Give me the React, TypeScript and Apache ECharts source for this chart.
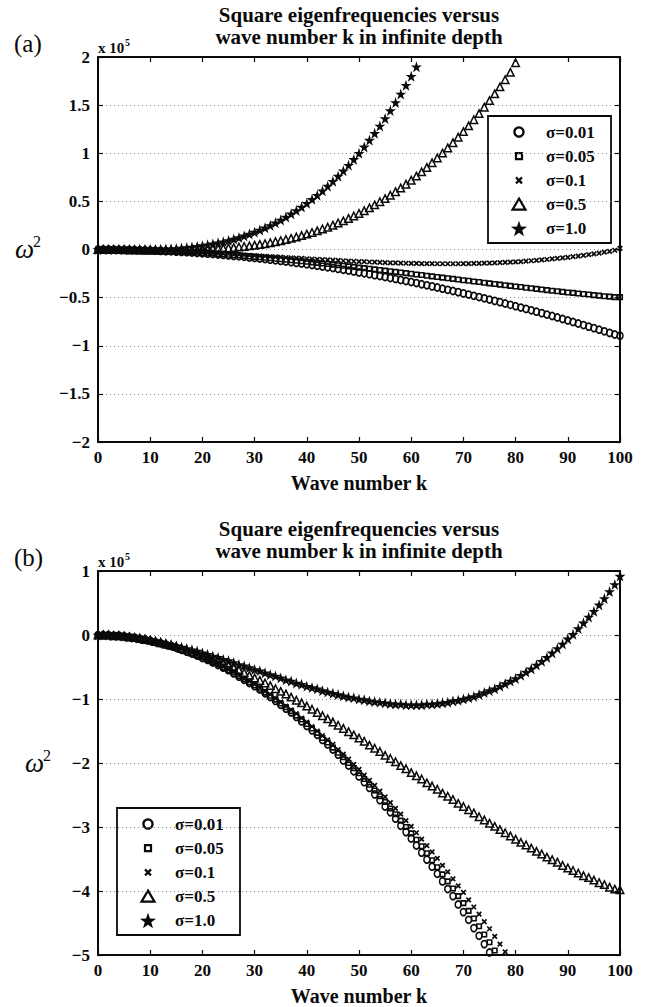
import React, { useEffect, useRef } from "react";
import * as echarts from "echarts";

// ---------- data (values in units of 10^5, index = wave number k) ----------
const SIGMA_LABELS = ["σ=0.01", "σ=0.05", "σ=0.1", "σ=0.5", "σ=1.0"];
const X_TICKS_MIN = 0;
const X_TICKS_MAX = 100;

// Panel (a)
const A_S001 = [
  0, 0, 0, -0.001, -0.002, -0.002, -0.004, -0.005, -0.006, -0.008,
  -0.010, -0.012, -0.014, -0.017, -0.019, -0.022, -0.025, -0.028, -0.032, -0.035,
  -0.039, -0.043, -0.047, -0.052, -0.056, -0.061, -0.066, -0.071, -0.076, -0.082,
  -0.087, -0.093, -0.099, -0.105, -0.112, -0.118, -0.125, -0.132, -0.139, -0.146,
  -0.154, -0.161, -0.169, -0.177, -0.185, -0.193, -0.202, -0.211, -0.219, -0.228,
  -0.238, -0.247, -0.256, -0.266, -0.276, -0.286, -0.296, -0.306, -0.317, -0.328,
  -0.338, -0.349, -0.361, -0.372, -0.383, -0.395, -0.407, -0.419, -0.431, -0.443,
  -0.456, -0.468, -0.481, -0.494, -0.507, -0.520, -0.534, -0.547, -0.561, -0.575,
  -0.589, -0.603, -0.617, -0.632, -0.646, -0.661, -0.676, -0.691, -0.706, -0.722,
  -0.737, -0.753, -0.769, -0.785, -0.801, -0.817, -0.833, -0.850, -0.866, -0.883,
  -0.896,
];
const A_S005 = [
  0, 0, 0, -0.001, -0.002, -0.002, -0.003, -0.005, -0.006, -0.008,
  -0.009, -0.011, -0.014, -0.016, -0.018, -0.021, -0.024, -0.026, -0.029, -0.033,
  -0.036, -0.039, -0.043, -0.047, -0.051, -0.055, -0.059, -0.063, -0.067, -0.072,
  -0.077, -0.081, -0.086, -0.091, -0.096, -0.101, -0.106, -0.112, -0.117, -0.122,
  -0.128, -0.134, -0.139, -0.145, -0.151, -0.157, -0.163, -0.169, -0.175, -0.181,
  -0.188, -0.194, -0.200, -0.206, -0.213, -0.219, -0.226, -0.232, -0.239, -0.245,
  -0.252, -0.259, -0.265, -0.272, -0.279, -0.285, -0.292, -0.299, -0.305, -0.312,
  -0.319, -0.325, -0.332, -0.338, -0.345, -0.352, -0.358, -0.365, -0.371, -0.378,
  -0.384, -0.390, -0.397, -0.403, -0.409, -0.415, -0.422, -0.428, -0.434, -0.440,
  -0.446, -0.451, -0.457, -0.463, -0.468, -0.474, -0.479, -0.485, -0.490, -0.495,
  -0.495,
];
const A_S01 = [
  0, 0, 0, -0.001, -0.002, -0.002, -0.003, -0.005, -0.006, -0.007,
  -0.009, -0.011, -0.013, -0.015, -0.017, -0.019, -0.022, -0.024, -0.027, -0.029,
  -0.032, -0.035, -0.038, -0.041, -0.044, -0.047, -0.050, -0.053, -0.056, -0.060,
  -0.063, -0.066, -0.070, -0.073, -0.076, -0.080, -0.083, -0.086, -0.090, -0.093,
  -0.096, -0.099, -0.102, -0.105, -0.108, -0.111, -0.114, -0.117, -0.120, -0.122,
  -0.125, -0.127, -0.130, -0.132, -0.134, -0.136, -0.138, -0.140, -0.141, -0.143,
  -0.144, -0.145, -0.146, -0.147, -0.147, -0.148, -0.148, -0.148, -0.148, -0.148,
  -0.147, -0.146, -0.145, -0.144, -0.142, -0.141, -0.139, -0.136, -0.134, -0.131,
  -0.128, -0.125, -0.121, -0.117, -0.113, -0.108, -0.104, -0.098, -0.093, -0.087,
  -0.081, -0.075, -0.068, -0.061, -0.053, -0.045, -0.037, -0.028, -0.019, -0.008,
  0.012,
];
const A_S05 = [
  0, 0, 0, -0.001, -0.001, -0.002, -0.003, -0.003, -0.004, -0.004,
  -0.005, -0.005, -0.006, -0.006, -0.006, -0.006, -0.005, -0.004, -0.003, -0.002,
  0.000, 0.002, 0.005, 0.008, 0.012, 0.016, 0.020, 0.026, 0.031, 0.038,
  0.045, 0.053, 0.061, 0.071, 0.081, 0.092, 0.104, 0.116, 0.130, 0.145,
  0.160, 0.177, 0.194, 0.213, 0.232, 0.253, 0.275, 0.298, 0.323, 0.348,
  0.375, 0.403, 0.433, 0.464, 0.496, 0.529, 0.564, 0.601, 0.639, 0.679,
  0.720, 0.763, 0.807, 0.853, 0.901, 0.951, 1.002, 1.055, 1.110, 1.166,
  1.225, 1.285, 1.348, 1.412, 1.479, 1.547, 1.617, 1.690, 1.764, 1.841,
  1.940,
];
const A_S10 = [
  0, 0, 0, -0.001, -0.001, -0.001, -0.001, -0.002, -0.001, -0.001,
  0.000, 0.001, 0.003, 0.005, 0.008, 0.011, 0.015, 0.020, 0.026, 0.032,
  0.040, 0.049, 0.058, 0.069, 0.081, 0.094, 0.108, 0.124, 0.141, 0.160,
  0.180, 0.202, 0.225, 0.250, 0.277, 0.306, 0.337, 0.370, 0.404, 0.441,
  0.480, 0.521, 0.564, 0.610, 0.658, 0.709, 0.762, 0.817, 0.876, 0.936,
  1.000, 1.066, 1.136, 1.208, 1.283, 1.361, 1.443, 1.527, 1.615, 1.706,
  1.800, 1.898,
];

// Panel (b)
const B_S001 = [
  0, 0, 0, -0.01, -0.01, -0.02, -0.03, -0.04, -0.06, -0.07,
  -0.09, -0.11, -0.13, -0.15, -0.17, -0.20, -0.23, -0.26, -0.29, -0.32,
  -0.36, -0.39, -0.43, -0.47, -0.51, -0.55, -0.60, -0.65, -0.70, -0.75,
  -0.80, -0.85, -0.91, -0.97, -1.03, -1.09, -1.15, -1.21, -1.28, -1.35,
  -1.42, -1.49, -1.56, -1.64, -1.71, -1.79, -1.87, -1.96, -2.04, -2.13,
  -2.21, -2.30, -2.39, -2.49, -2.58, -2.68, -2.77, -2.87, -2.98, -3.08,
  -3.18, -3.29, -3.40, -3.51, -3.62, -3.73, -3.85, -3.97, -4.08, -4.21,
  -4.33, -4.45, -4.58, -4.70, -4.83, -4.96,
];
const B_S005 = [
  0, 0, 0, -0.01, -0.01, -0.02, -0.03, -0.04, -0.06, -0.07,
  -0.09, -0.11, -0.13, -0.15, -0.17, -0.20, -0.23, -0.25, -0.29, -0.32,
  -0.35, -0.39, -0.43, -0.46, -0.51, -0.55, -0.59, -0.64, -0.69, -0.74,
  -0.79, -0.84, -0.90, -0.95, -1.01, -1.07, -1.13, -1.19, -1.26, -1.32,
  -1.39, -1.46, -1.53, -1.61, -1.68, -1.76, -1.84, -1.91, -2.00, -2.08,
  -2.16, -2.25, -2.34, -2.43, -2.52, -2.61, -2.71, -2.80, -2.90, -3.00,
  -3.10, -3.20, -3.30, -3.41, -3.52, -3.63, -3.74, -3.85, -3.96, -4.08,
  -4.19, -4.31, -4.43, -4.55, -4.68, -4.80, -4.93,
];
const B_S01 = [
  0, 0, 0, -0.01, -0.01, -0.02, -0.03, -0.04, -0.06, -0.07,
  -0.09, -0.11, -0.13, -0.15, -0.17, -0.20, -0.22, -0.25, -0.28, -0.31,
  -0.35, -0.38, -0.42, -0.46, -0.50, -0.54, -0.58, -0.63, -0.68, -0.72,
  -0.77, -0.83, -0.88, -0.93, -0.99, -1.05, -1.11, -1.17, -1.23, -1.30,
  -1.36, -1.43, -1.50, -1.57, -1.64, -1.71, -1.79, -1.86, -1.94, -2.02,
  -2.10, -2.19, -2.27, -2.35, -2.44, -2.53, -2.62, -2.71, -2.80, -2.90,
  -2.99, -3.09, -3.19, -3.29, -3.39, -3.49, -3.60, -3.70, -3.81, -3.92,
  -4.02, -4.14, -4.25, -4.36, -4.48, -4.59, -4.71, -4.83, -4.95,
];
const B_S05 = [
  0, 0, 0, -0.01, -0.01, -0.02, -0.03, -0.04, -0.05, -0.07,
  -0.08, -0.10, -0.12, -0.14, -0.16, -0.18, -0.21, -0.23, -0.26, -0.29,
  -0.32, -0.35, -0.38, -0.41, -0.44, -0.48, -0.52, -0.55, -0.59, -0.63,
  -0.67, -0.71, -0.75, -0.79, -0.84, -0.88, -0.92, -0.97, -1.02, -1.06,
  -1.11, -1.16, -1.21, -1.26, -1.31, -1.36, -1.41, -1.46, -1.51, -1.56,
  -1.61, -1.66, -1.72, -1.77, -1.82, -1.88, -1.93, -1.98, -2.04, -2.09,
  -2.15, -2.20, -2.25, -2.31, -2.36, -2.41, -2.47, -2.52, -2.57, -2.63,
  -2.68, -2.73, -2.78, -2.84, -2.89, -2.94, -2.99, -3.04, -3.09, -3.14,
  -3.19, -3.24, -3.28, -3.33, -3.38, -3.42, -3.47, -3.51, -3.55, -3.60,
  -3.64, -3.68, -3.72, -3.76, -3.79, -3.83, -3.87, -3.90, -3.94, -3.97,
  -3.98,
];
const B_S10 = [
  0, 0, 0, -0.01, -0.01, -0.02, -0.03, -0.04, -0.05, -0.06,
  -0.08, -0.09, -0.11, -0.13, -0.15, -0.17, -0.19, -0.21, -0.23, -0.25,
  -0.28, -0.30, -0.33, -0.35, -0.38, -0.40, -0.43, -0.46, -0.48, -0.51,
  -0.54, -0.56, -0.59, -0.62, -0.64, -0.67, -0.70, -0.72, -0.75, -0.77,
  -0.80, -0.82, -0.84, -0.87, -0.89, -0.91, -0.93, -0.95, -0.97, -0.98,
  -1.00, -1.01, -1.03, -1.04, -1.05, -1.06, -1.07, -1.08, -1.08, -1.09,
  -1.09, -1.09, -1.09, -1.08, -1.08, -1.07, -1.06, -1.05, -1.03, -1.02,
  -1.00, -0.98, -0.96, -0.93, -0.90, -0.87, -0.84, -0.80, -0.76, -0.72,
  -0.68, -0.63, -0.58, -0.53, -0.47, -0.41, -0.35, -0.28, -0.21, -0.14,
  -0.06, 0.01, 0.10, 0.19, 0.28, 0.37, 0.47, 0.57, 0.68, 0.79,
  0.92,
];

const A_SERIES = [A_S001, A_S005, A_S01, A_S05, A_S10];
const B_SERIES = [B_S001, B_S005, B_S01, B_S05, B_S10];

// ---------- styling ----------
const INK = "#0a0a0a";
const SERIF = '"Liberation Serif", "Times New Roman", serif';
const STAR_PATH =
  "path://M50,0 L61.2,34.5 L97.6,34.5 L68.2,55.9 L79.4,90.5 L50,69.1 L20.6,90.5 L31.8,55.9 L2.4,34.5 L38.8,34.5 Z";
const CROSS_PATH = "path://M0,0 L10,10 M10,0 L0,10";

const MARKERS = [
  { symbol: "circle", size: [6, 7], fill: "transparent", bw: 1.6 },
  { symbol: "rect", size: [4.5, 4.5], fill: "transparent", bw: 1.6 },
  { symbol: CROSS_PATH, size: [4.5, 4.5], fill: "transparent", bw: 1.7 },
  { symbol: "triangle", size: [7.5, 7.5], fill: "transparent", bw: 1.5 },
  { symbol: STAR_PATH, size: [11, 11], fill: INK, bw: 0 },
];

const fmt = (v: number) => (v < 0 ? "\u2212" + Math.abs(v) : String(v));

function xAxes(gridIndex: number, withName: boolean) {
  const common = {
    gridIndex,
    type: "value",
    min: X_TICKS_MIN,
    max: X_TICKS_MAX,
    interval: 10,
    axisLine: { show: true, onZero: false, lineStyle: { color: INK, width: 2 } },
    axisTick: { show: true, inside: true, length: 5, lineStyle: { color: INK, width: 1.2 } },
    splitLine: { show: false },
  };
  return [
    {
      ...common,
      position: "bottom",
      axisLabel: { show: true, margin: 7, color: INK, fontFamily: SERIF, fontWeight: "bold", fontSize: 17 },
      name: withName ? "Wave number k" : "",
      nameLocation: "middle",
      nameGap: 31,
      nameTextStyle: { color: INK, fontFamily: SERIF, fontWeight: "bold", fontSize: 20 },
    },
    { ...common, position: "top", axisLabel: { show: false } },
  ];
}

function yAxes(gridIndex: number, min: number, max: number, interval: number) {
  const common = {
    gridIndex,
    type: "value",
    min,
    max,
    interval,
    axisLine: { show: true, onZero: false, lineStyle: { color: INK, width: 2 } },
    axisTick: { show: true, inside: true, length: 5, lineStyle: { color: INK, width: 1.2 } },
  };
  return [
    {
      ...common,
      position: "left",
      axisLabel: {
        show: true,
        margin: 8,
        color: INK,
        fontFamily: SERIF,
        fontWeight: "bold",
        fontSize: 17,
        formatter: fmt,
      },
      splitLine: { show: true, lineStyle: { color: "#8a8a8a", width: 1, type: [1, 3] } },
    },
    { ...common, position: "right", axisLabel: { show: false }, splitLine: { show: false } },
  ];
}

function scatterSeries(arrs: number[][], xIdx: number, yIdx: number) {
  return arrs.map((arr, i) => {
    const m = MARKERS[i];
    return {
      name: SIGMA_LABELS[i],
      type: "scatter",
      xAxisIndex: xIdx,
      yAxisIndex: yIdx,
      symbol: m.symbol,
      symbolSize: m.size,
      silent: true,
      clip: true,
      itemStyle: { color: m.fill, borderColor: INK, borderWidth: m.bw, opacity: 1 },
      data: arr.map((v, k) => [k, v]),
      z: 3 + i,
    };
  });
}

function starPoints(cx: number, cy: number, R: number) {
  const pts: number[][] = [];
  for (let i = 0; i < 10; i++) {
    const a = (-90 + i * 36) * (Math.PI / 180);
    const r = i % 2 === 0 ? R : R * 0.4;
    pts.push([cx + r * Math.cos(a), cy + r * Math.sin(a)]);
  }
  return pts;
}

function legendSymbol(i: number, cx: number, cy: number): any {
  const stroke = { stroke: INK, fill: "none" };
  if (i === 0) return { type: "circle", shape: { cx, cy, r: 4.6 }, style: { ...stroke, lineWidth: 2.4 } };
  if (i === 1)
    return { type: "rect", shape: { x: cx - 3, y: cy - 3, width: 6, height: 6 }, style: { ...stroke, lineWidth: 2.2 } };
  if (i === 2)
    return {
      type: "group",
      children: [
        { type: "line", shape: { x1: cx - 3, y1: cy - 3, x2: cx + 3, y2: cy + 3 }, style: { stroke: INK, lineWidth: 2.2 } },
        { type: "line", shape: { x1: cx + 3, y1: cy - 3, x2: cx - 3, y2: cy + 3 }, style: { stroke: INK, lineWidth: 2.2 } },
      ],
    };
  if (i === 3)
    return {
      type: "polygon",
      shape: { points: [[cx, cy - 6], [cx + 6.5, cy + 5], [cx - 6.5, cy + 5]] },
      style: { ...stroke, lineWidth: 2.2 },
    };
  return { type: "polygon", shape: { points: starPoints(cx, cy + 0.5, 8.5) }, style: { fill: INK, stroke: "none" } };
}

function legendGroup(x0: number, y0: number): any {
  const children: any[] = [
    {
      type: "rect",
      shape: { x: x0, y: y0, width: 123, height: 127 },
      style: { fill: "#fff", stroke: INK, lineWidth: 1.8 },
    },
  ];
  SIGMA_LABELS.forEach((label, i) => {
    const cy = y0 + 16 + i * 24.2;
    children.push(legendSymbol(i, x0 + 31, cy));
    children.push({
      type: "text",
      x: x0 + 58,
      y: cy,
      style: {
        text: label,
        font: `bold 17px ${SERIF}`,
        fill: INK,
        align: "left",
        verticalAlign: "middle",
        textAlign: "left",
        textVerticalAlign: "middle",
      },
    });
  });
  return { type: "group", z: 100, children };
}

function textEl(text: string, x: number, y: number, font: string, align = "left"): any {
  return {
    type: "text",
    x,
    y,
    z: 100,
    style: {
      text,
      font,
      fill: INK,
      align,
      verticalAlign: "middle",
      textAlign: align,
      textVerticalAlign: "middle",
    },
  };
}

function panelTexts(dy: number, tag: string): any[] {
  return [
    textEl("Square eigenfrequencies versus", 359, 15 + dy, `bold 21px ${SERIF}`, "center"),
    textEl("wave number k in infinite depth", 359, 37 + dy, `bold 21px ${SERIF}`, "center"),
    textEl(tag, 14, 43 + dy, `25px ${SERIF}`),
    textEl("x 10", 98, 48 + dy, `bold 15px ${SERIF}`),
    textEl("5", 125, 42 + dy, `bold 10px ${SERIF}`),
  ];
}

function omegaLabel(x: number, y: number): any[] {
  return [
    textEl("ω", x, y, `italic 27px ${SERIF}`),
    textEl("2", x + 18, y - 8, `16px ${SERIF}`),
  ];
}

export default function App() {
  const ref = useRef<HTMLDivElement>(null);

  useEffect(() => {
    if (!ref.current) return;
    const chart = echarts.init(ref.current, undefined, { renderer: "svg" });
    const option: any = {
      animation: false,
      backgroundColor: "#ffffff",
      grid: [
        { left: 98, top: 57, width: 522, height: 385, containLabel: false },
        { left: 98, top: 571, width: 522, height: 384, containLabel: false },
      ],
      xAxis: [...xAxes(0, true), ...xAxes(1, true)],
      yAxis: [...yAxes(0, -2, 2, 0.5), ...yAxes(1, -5, 1, 1)],
      series: [...scatterSeries(A_SERIES, 0, 0), ...scatterSeries(B_SERIES, 2, 2)],
      graphic: [
        ...panelTexts(0, "(a)"),
        ...panelTexts(514, "(b)"),
        ...omegaLabel(15, 249),
        ...omegaLabel(25, 763),
        legendGroup(488, 116),
        legendGroup(117, 808),
      ],
    };
    chart.setOption(option);
    return () => chart.dispose();
  }, []);

  return (
    <div
      ref={ref}
      style={{ position: "absolute", left: 0, top: 0, width: 648, height: 1007, background: "#fff" }}
    />
  );
}
